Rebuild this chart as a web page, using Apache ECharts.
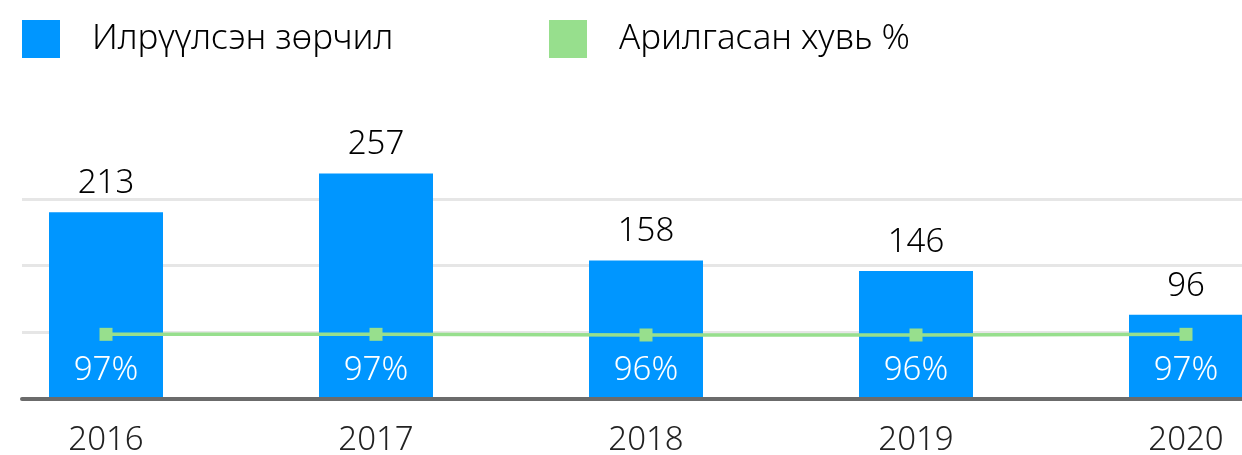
<!DOCTYPE html>
<html>
<head>
<meta charset="utf-8">
<script src="https://cdn.jsdelivr.net/npm/echarts@6/dist/echarts.min.js"></script>
<style>
  html, body { margin: 0; padding: 0; background: #ffffff; }
  #chart { width: 1242px; height: 455px; }
</style>
</head>
<body>
<div id="chart"></div>
<script>
// Years on the category axis
const years = ['2016', '2017', '2018', '2019', '2020'];
// Detected violations per year
const violations = [213, 257, 158, 146, 96];
// Share of violations cleared, percent
const clearedPct = [97, 97, 96, 96, 97];
// Series names shown in the legend
const barName = 'Илрүүлсэн зөрчил';
const lineName = 'Арилгасан хувь %';

const FONT = '"Noto Sans", Lato, sans-serif';
const BLUE = '#0096ff';
const GREEN = '#97df8d';

// Year slots sit at 0..4; the plot shows a little of the slot before the
// first year and clips the last bar at the right edge.
const slotIndex = years.map((_, i) => i);
const X_MIN = -84 / 270;
const X_MAX = 1136 / 270;

const chart = echarts.init(document.getElementById('chart'), null, { renderer: 'canvas' });

const legendText = { fontSize: 35, fontWeight: 300, color: '#000', fontFamily: FONT, padding: [0, 0, 0, 27] };

chart.setOption({
  animation: false,
  backgroundColor: '#ffffff',
  textStyle: { fontFamily: FONT },
  legend: [
    {
      data: [barName], left: 22, top: 20, padding: 0,
      itemWidth: 38, itemHeight: 38, icon: 'rect',
      textStyle: legendText
    },
    {
      data: [lineName], left: 549, top: 20, padding: 0,
      itemWidth: 38, itemHeight: 38, icon: 'rect',
      textStyle: legendText
    }
  ],
  grid: [
    { left: 22, right: 0, top: 199, bottom: 56, containLabel: false, outerBoundsMode: 'none' }
  ],
  xAxis: [
    {
      type: 'value', min: X_MIN, max: X_MAX, z: 10,
      axisLine: { show: true, onZero: false, lineStyle: { color: '#6b6b6b', width: 4 } },
      axisTick: { show: false },
      splitLine: { show: false },
      axisLabel: {
        customValues: slotIndex,
        formatter: v => years[Math.round(v)],
        fontSize: 33, fontWeight: 300, color: '#222', margin: 25, fontFamily: FONT
      }
    }
  ],
  yAxis: [
    {
      type: 'value', min: 0, max: 228, interval: 76,
      axisLine: { show: false }, axisTick: { show: false }, axisLabel: { show: false },
      splitLine: { show: true, lineStyle: { color: '#e6e6e6', width: 3 } }
    },
    { type: 'value', min: 0, max: 300, show: false, splitLine: { show: false } }
  ],
  series: [
    {
      name: barName, type: 'bar', yAxisIndex: 0,
      data: violations.map((v, i) => [slotIndex[i], v]),
      barWidth: 114, clip: false,
      itemStyle: { color: BLUE },
      label: {
        show: true, position: 'top', distance: 12,
        fontSize: 33, fontWeight: 300, color: '#000', fontFamily: FONT,
        formatter: p => p.value[1]
      }
    },
    {
      name: lineName, type: 'line', yAxisIndex: 1,
      data: clearedPct.map((v, i) => [slotIndex[i], v]),
      symbol: 'rect', symbolSize: 13,
      itemStyle: { color: GREEN },
      lineStyle: { color: GREEN, width: 3.5 },
      label: {
        show: true, position: 'bottom', distance: 13,
        fontSize: 33, fontWeight: 300, color: '#ffffff', fontFamily: FONT,
        formatter: p => p.value[1] + '%'
      }
    }
  ]
});
</script>
</body>
</html>
